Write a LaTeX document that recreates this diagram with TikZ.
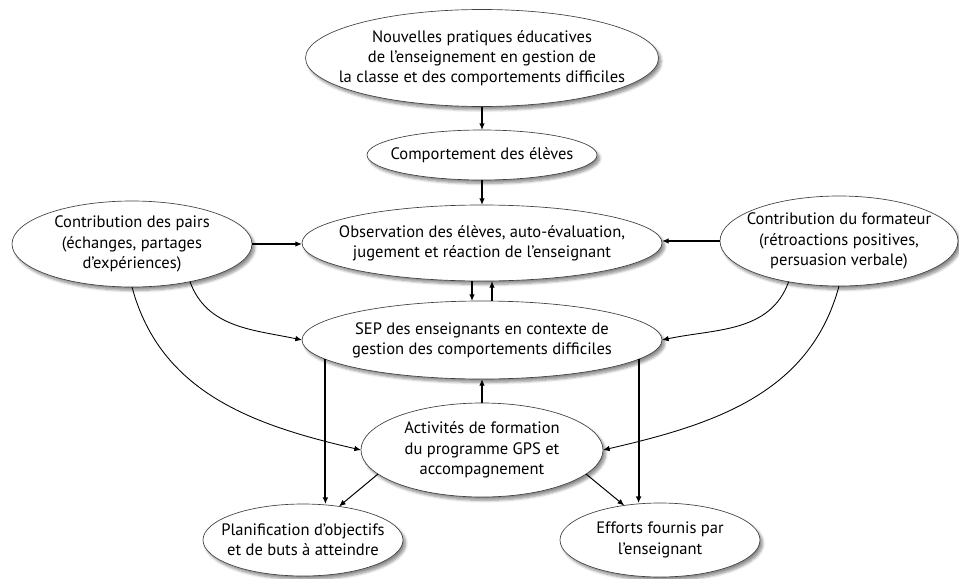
\documentclass[tikz,border=0pt]{standalone}
\usepackage{fontspec}
\setmainfont{PT Sans}
\usetikzlibrary{shapes.geometric,arrows.meta,shadows.blur}
\begin{document}
\begin{tikzpicture}[x=0.75pt,y=-0.75pt,
  el/.style={ellipse, draw=black!75, line width=0.5pt, fill=white, inner xsep=-30pt, inner ysep=-12pt, outer sep=0pt,
    align=center, font=\fontsize{12.4}{15.2}\selectfont,
    blur shadow={shadow xshift=2pt, shadow yshift=-2.5pt, shadow blur steps=6, shadow opacity=45}},
  sarr/.style={-{Latex[length=5pt,width=4.2pt]}, line width=1.2pt},
  varr/.style={-{Latex[length=5pt,width=4.4pt]}, line width=1.4pt},
  tarr/.style={-{Latex[length=5pt,width=4.2pt]}, line width=0.75pt},
  carr/.style={-{Latex[length=5pt,width=4.2pt]}, line width=0.65pt}]
\useasboundingbox (0,0) rectangle (959,578);

\node[el, minimum width={353*0.75pt}, minimum height={97*0.75pt}] (top) at (482,58)
  {Nouvelles pratiques éducatives\\de l’enseignement en gestion de\\la classe et des comportements difficiles};
\node[el, minimum width={230*0.75pt}, minimum height={50*0.75pt}] (comp) at (482,155)
  {Comportement des élèves};
\node[el, minimum width={360*0.75pt}, minimum height={76*0.75pt}] (obs) at (482,243)
  {Observation des élèves, auto-évaluation,\\jugement et réaction de l’enseignant};
\node[el, minimum width={240*0.75pt}, minimum height={86*0.75pt}] (pairs) at (132,244)
  {Contribution des pairs\\(échanges, partages\\d’expériences)};
\node[el, minimum width={238*0.75pt}, minimum height={90*0.75pt}] (form) at (839,241)
  {Contribution du formateur\\(rétroactions positives,\\persuasion verbale)};
\node[el, minimum width={360*0.75pt}, minimum height={78*0.75pt}] (sep) at (482,340)
  {SEP des enseignants en contexte de\\gestion des comportements difficiles};
\node[el, minimum width={242*0.75pt}, minimum height={94*0.75pt}] (act) at (482,450)
  {Activités de formation\\du programme GPS et\\accompagnement};
\node[el, minimum width={200*0.75pt}, minimum height={72*0.75pt}] (plan) at (303,540)
  {Planification d’objectifs\\et de buts à atteindre};
\node[el, minimum width={200*0.75pt}, minimum height={74*0.75pt}] (eff) at (660,540)
  {Efforts fournis par\\l’enseignant};

\draw[sarr] (top.south) -- (comp.north);
\draw[sarr] (comp.south) -- (obs.north);
\draw[sarr] (pairs.east) -- (obs.west |- pairs.east);
\draw[sarr] (form.west) -- (obs.east |- form.west);
\draw[sarr] ([xshift=-7.5pt]obs.south) -- ([xshift=-7.5pt]sep.north);
\draw[sarr] ([xshift=7.5pt]sep.north) -- ([xshift=7.5pt]obs.south);
\draw[sarr] (act.north) -- (sep.south);
\draw[varr] (sep.187) -- (sep.187 |- plan.north);
\draw[varr] (sep.-7) -- (sep.-7 |- eff.north);
\draw[tarr] (act.-167) -- (plan.43);
\draw[tarr] (act.-13) -- (eff.136);
\draw[carr] (pairs.-33) to[out=-70,in=168] (sep.west);
\draw[carr] (pairs.south) to[out=-75,in=167] (act.west);
\draw[carr] (form.-141) to[out=-110,in=12] (sep.east);
\draw[carr] (form.south) to[out=-105,in=13] (act.east);
\end{tikzpicture}
\end{document}
